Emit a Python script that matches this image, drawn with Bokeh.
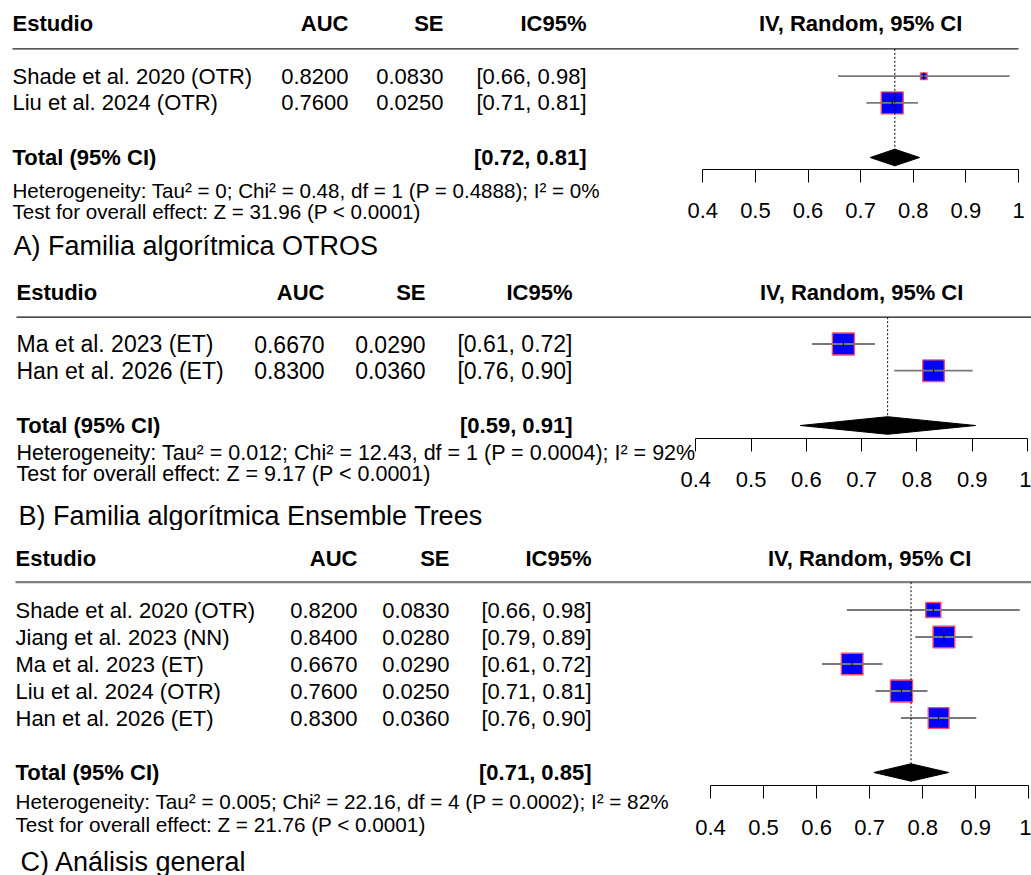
from bokeh.plotting import figure
from bokeh.models import Range1d, LinearAxis, FixedTicker
from bokeh.layouts import column
from bokeh.embed import file_html
from bokeh.resources import INLINE
from bokeh.core.properties import value

# ---------------- data ----------------
col_headers = ["Estudio", "AUC", "SE", "IC95%"]
forest_header = "IV, Random, 95% CI"
total_label = "Total (95% CI)"
tick_values = [0.4, 0.5, 0.6, 0.7, 0.8, 0.9, 1.0]
tick_labels = ["0.4", "0.5", "0.6", "0.7", "0.8", "0.9", "1"]

# Panel A
a_studies = ["Shade et al. 2020 (OTR)", "Liu et al. 2024 (OTR)"]
a_auc = [0.82, 0.76]
a_se = [0.083, 0.025]
a_lo = [0.657, 0.711]
a_hi = [0.983, 0.809]
a_tau2 = 0.0
a_pooled = [0.765, 0.718, 0.812]   # estimate, lower, upper
a_het = "Heterogeneity: Tau² = 0; Chi² = 0.48, df = 1 (P = 0.4888); I² = 0%"
a_test = "Test for overall effect: Z = 31.96 (P < 0.0001)"
a_title = "A) Familia algorítmica OTROS"

# Panel B
b_studies = ["Ma et al. 2023 (ET)", "Han et al. 2026 (ET)"]
b_auc = [0.667, 0.83]
b_se = [0.029, 0.036]
b_lo = [0.610, 0.759]
b_hi = [0.724, 0.901]
b_tau2 = 0.012
b_pooled = [0.747, 0.589, 0.906]
b_het = "Heterogeneity: Tau² = 0.012; Chi² = 12.43, df = 1 (P = 0.0004); I² = 92%"
b_test = "Test for overall effect: Z = 9.17 (P < 0.0001)"
b_title = "B) Familia algorítmica Ensemble Trees"

# Panel C
c_studies = ["Shade et al. 2020 (OTR)", "Jiang et al. 2023 (NN)", "Ma et al. 2023 (ET)",
             "Liu et al. 2024 (OTR)", "Han et al. 2026 (ET)"]
c_auc = [0.82, 0.84, 0.667, 0.76, 0.83]
c_se = [0.083, 0.028, 0.029, 0.025, 0.036]
c_lo = [0.657, 0.786, 0.610, 0.711, 0.759]
c_hi = [0.983, 0.894, 0.724, 0.809, 0.901]
c_tau2 = 0.005
c_pooled = [0.778, 0.708, 0.849]
c_het = "Heterogeneity: Tau² = 0.005; Chi² = 22.16, df = 4 (P = 0.0002); I² = 82%"
c_test = "Test for overall effect: Z = 21.76 (P < 0.0001)"
c_title = "C) Análisis general"

# ---------------- layout (image pixel positions) ----------------
FONT = value("Liberation Sans")
W = 1031

LA = dict(top=0, bottom=262, ax0=702.3, ax1=1018.0, name_x=12, auc_x=348, se_x=443, ci_x=586,
          head_y=23, line_y=48.3, line_x=(12, 1018), row0=75.7, dy=26.7, total_y=157,
          het_y=190, test_y=211, title_y=245, title_x=13, axis_y=169.3, dh=8.3,
          line_color="#222222", line_w=1.3, row_fs=22, het_fs=20.6, standoff=20)
LB = dict(top=262, bottom=530, ax0=695.3, ax1=1027.0, name_x=16, auc_x=324, se_x=425, ci_x=572,
          head_y=291.7, line_y=316.7, line_x=(16, 1031), row0=343.5, dy=26.7, total_y=425,
          het_y=452, test_y=473.5, title_y=515, title_x=18, axis_y=437.7, dh=8.8,
          line_color="#111111", line_w=1.3, row_fs=23, het_fs=21.5, standoff=21)
LC = dict(top=530, bottom=875, ax0=710.0, ax1=1028.3, name_x=15, auc_x=357, se_x=449, ci_x=591,
          head_y=558, line_y=581.7, line_x=(15, 1031), row0=609.5, dy=27, total_y=772,
          het_y=801, test_y=824, title_y=861, title_x=20, axis_y=785, dh=8.7,
          line_color="#808080", line_w=2.2, row_fs=22, het_fs=20.7, standoff=21)


def panel(studies, auc, se, lo, hi, tau2, pooled, het, test, title, L):
    h = L["bottom"] - L["top"]
    scale = 0.6 / (L["ax1"] - L["ax0"])
    x0 = 0.4 - L["ax0"] * scale
    x1 = x0 + W * scale
    p = figure(width=W, height=h, x_range=Range1d(x0, x1),
               y_range=Range1d(L["bottom"], L["top"]),
               x_axis_type=None, y_axis_type=None, output_backend="svg",
               toolbar_location=None, min_border=0, outline_line_color=None,
               background_fill_color="white", border_fill_color="white")

    def px(xi):
        return x0 + xi * scale

    n = len(studies)
    rows = [L["row0"] + i * L["dy"] for i in range(n)]

    def txt(xs, ys, texts, fs, align="left", bold=False):
        p.text(x=xs, y=ys, text=texts, text_font=FONT, text_font_size=f"{fs}px",
               text_align=align, text_baseline="middle", text_color="black",
               text_font_style="bold" if bold else "normal")

    # headers
    txt([px(L["name_x"])], [L["head_y"]], [col_headers[0]], 22, bold=True)
    txt([px(L["auc_x"]), px(L["se_x"]), px(L["ci_x"])], [L["head_y"]] * 3,
        col_headers[1:], 22, align="right", bold=True)
    txt([0.7], [L["head_y"]], [forest_header], 22, align="center", bold=True)
    p.segment(x0=[px(L["line_x"][0])], y0=[L["line_y"]], x1=[px(L["line_x"][1])],
              y1=[L["line_y"]], line_color=L["line_color"], line_width=L["line_w"])

    # study rows
    fs = L["row_fs"]
    txt([px(L["name_x"])] * n, rows, studies, fs)
    txt([px(L["auc_x"])] * n, rows, [f"{v:.4f}" for v in auc], fs, align="right")
    txt([px(L["se_x"])] * n, rows, [f"{v:.4f}" for v in se], fs, align="right")
    txt([px(L["ci_x"])] * n, rows, [f"[{a:.2f}, {b:.2f}]" for a, b in zip(lo, hi)], fs, align="right")

    # total row
    est, plo, phi = pooled
    txt([px(L["name_x"])], [L["total_y"]], [total_label], 22, bold=True)
    txt([px(L["ci_x"])], [L["total_y"]], [f"[{plo:.2f}, {phi:.2f}]"], 22, align="right", bold=True)
    txt([px(L["name_x"])], [L["het_y"]], [het], L["het_fs"])
    txt([px(L["name_x"])], [L["test_y"]], [test], L["het_fs"])
    txt([px(L["title_x"])], [L["title_y"]], [title], 27)

    # forest marks
    weights = [1.0 / (s * s + tau2) for s in se]
    wmax = max(weights)
    sizes = [22.0 * (w / wmax) ** 0.5 for w in weights]
    p.scatter(x=auc, y=rows, size=sizes, marker="square", fill_color="#0000ff",
              line_color="#ff4d66", line_width=1.4)
    p.segment(x0=lo, y0=rows, x1=hi, y1=rows, line_color="#7a7a7a", line_width=1.8)
    p.segment(x0=auc, y0=[r - 3.5 for r in rows], x1=auc, y1=[r + 3.5 for r in rows],
              line_color="black", line_width=1)

    ty = L["total_y"]
    p.segment(x0=[est], y0=[L["line_y"]], x1=[est], y1=[ty - L["dh"]], line_color="black",
              line_width=1, line_dash="2 2")
    p.patch(x=[plo, est, phi, est], y=[ty, ty - L["dh"], ty, ty + L["dh"]],
            fill_color="black", line_color="black", line_width=1)

    ax = LinearAxis(fixed_location=L["axis_y"], ticker=FixedTicker(ticks=tick_values),
                    major_label_overrides=dict(zip(tick_values, tick_labels)))
    ax.bounds = (0.4, 1.0)
    ax.axis_line_color = "black"
    ax.axis_line_width = 1
    ax.major_tick_line_color = "black"
    ax.major_tick_in = 0
    ax.major_tick_out = 13
    ax.minor_tick_in = 0
    ax.minor_tick_out = 0
    ax.major_label_text_font = "Liberation Sans"
    ax.major_label_text_font_size = "22px"
    ax.major_label_text_color = "black"
    ax.major_label_standoff = L["standoff"]
    p.add_layout(ax, "below")
    return p


pa = panel(a_studies, a_auc, a_se, a_lo, a_hi, a_tau2, a_pooled, a_het, a_test, a_title, LA)
pb = panel(b_studies, b_auc, b_se, b_lo, b_hi, b_tau2, b_pooled, b_het, b_test, b_title, LB)
pc = panel(c_studies, c_auc, c_se, c_lo, c_hi, c_tau2, c_pooled, c_het, c_test, c_title, LC)

layout = column(pa, pb, pc, spacing=0)
open("out.html", "w").write(file_html(layout, INLINE))
